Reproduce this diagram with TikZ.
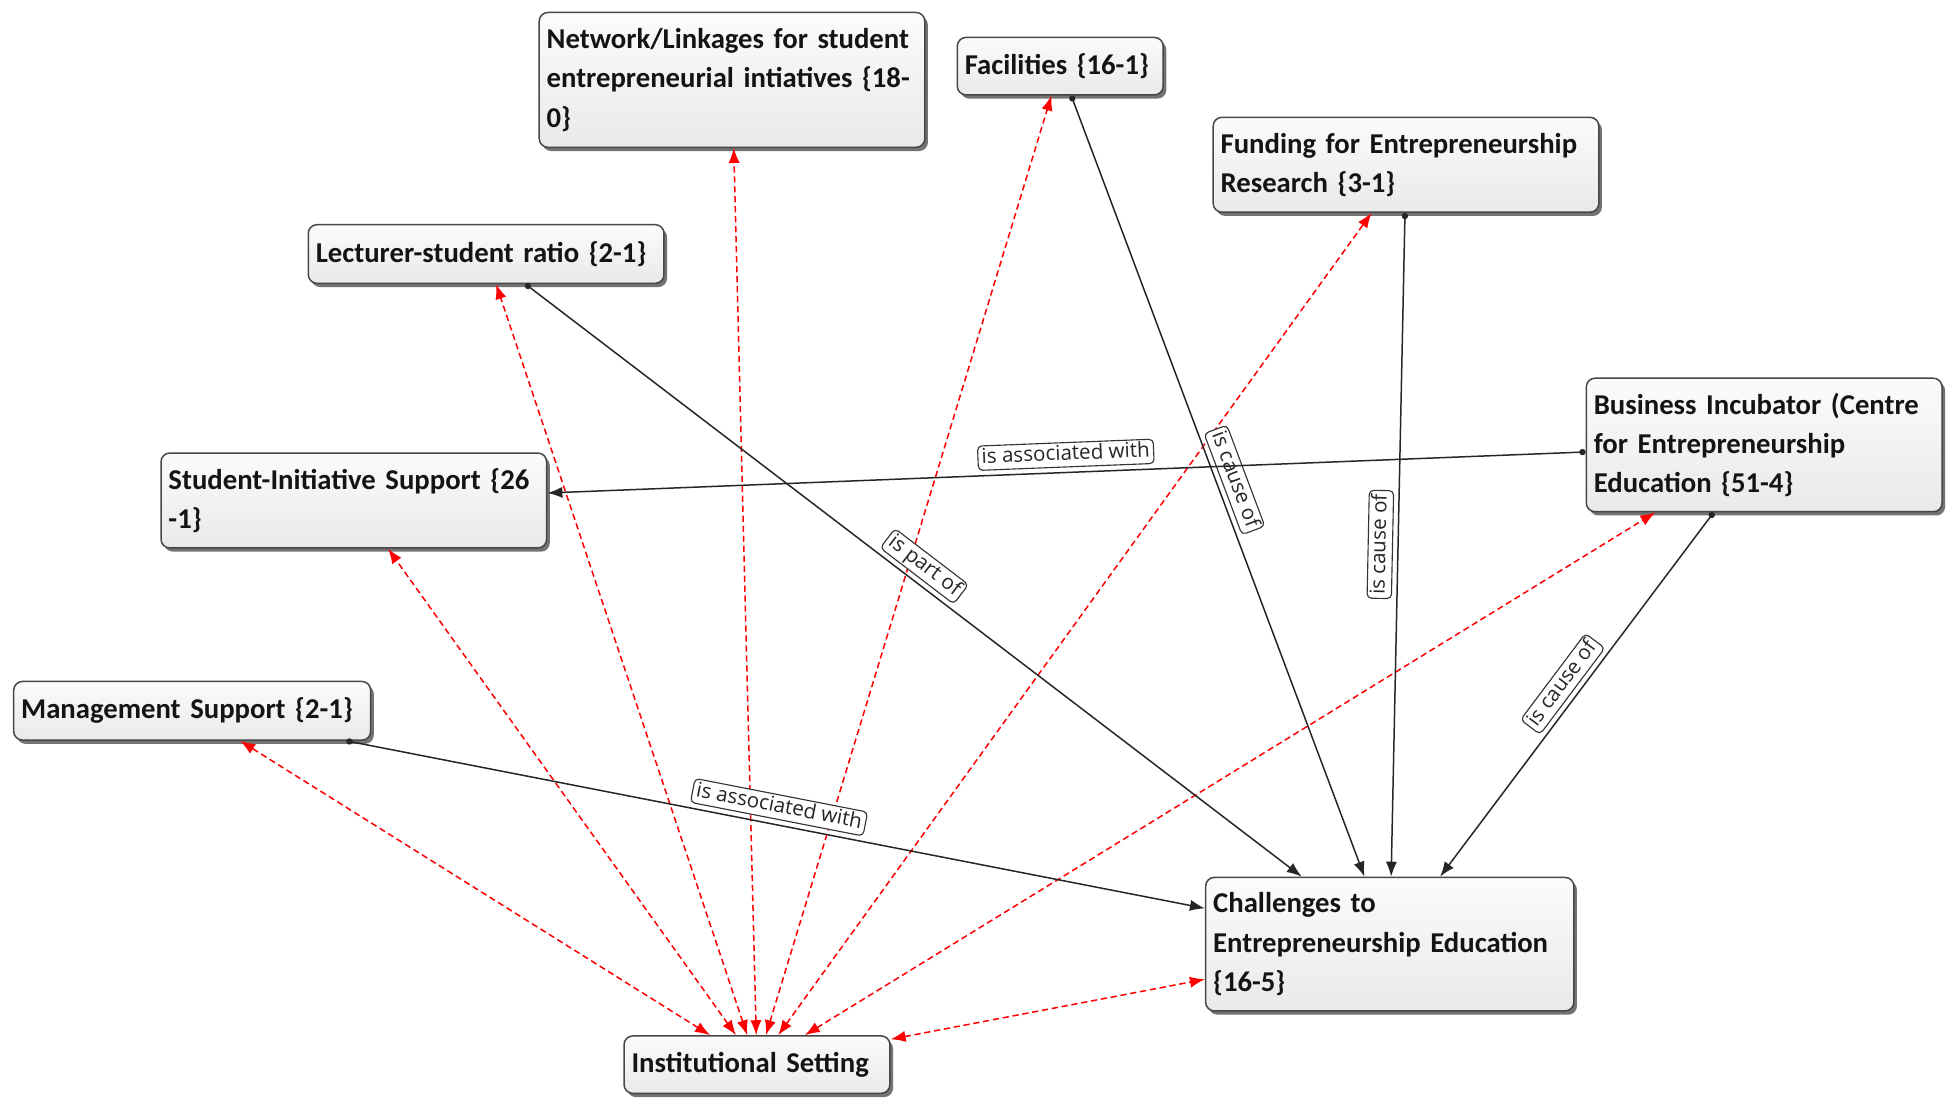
\documentclass[tikz,border=0pt]{standalone}
\usepackage{fontspec}
\newfontfamily\boxfont{Carlito}
\newfontfamily\tagfont{Open Sans}
\usetikzlibrary{arrows.meta,shadows}

\begin{document}
\begin{tikzpicture}[x=1pt,y=-1pt,
  concept/.style={draw=black!72, line width=1.2pt, rounded corners=7pt,
    top color=gray!3, bottom color=gray!17,
    drop shadow={shadow xshift=2.5pt, shadow yshift=-3pt, fill=black, opacity=.55},
    inner xsep=6pt, inner ysep=4pt, align=left,
    font=\boxfont\bfseries\fontsize{23}{31.5}\selectfont, text=black!92},
  rel/.style={line width=1.2pt, draw=black!85,
    {Circle[length=5pt]}-{Latex[length=12pt,width=9pt]}},
  tie/.style={line width=1.2pt, draw=red, dash pattern=on 5pt off 3pt,
    {Latex[length=12pt,width=9pt]}-{Latex[length=12pt,width=9pt]}},
  tag/.style={draw=black!80, line width=0.9pt, rounded corners=3.5pt, fill=white,
    inner xsep=3pt, inner ysep=1.5pt, text height=12.5pt, text depth=4pt,
    text=black!85, font=\tagfont\fontsize{16.5}{18}\selectfont,
    sloped, above=4pt},
]
\useasboundingbox (0,0) rectangle (1568,881);

% concept boxes
\node[concept, text width=297pt, minimum height=108pt] (net) at (586.5,64)
  {Network/Linkages for student\\entrepreneurial intiatives \{18-\\0\}};
\node[concept, text width=153pt, minimum height=46pt] (fac) at (849.5,53)
  {Facilities \{16-1\}};
\node[concept, text width=297pt, minimum height=76pt] (fund) at (1126.5,132)
  {Funding for Entrepreneurship\\Research \{3-1\}};
\node[concept, text width=273pt, minimum height=47pt] (lect) at (389.5,203.5)
  {Lecturer-student ratio \{2-1\}};
\node[concept, text width=297pt, minimum height=76pt] (stud) at (283.5,401)
  {Student-Initiative Support \{26\\-1\}};
\node[concept, text width=273pt, minimum height=107pt] (biz) at (1413.5,356.5)
  {Business Incubator (Centre\\for Entrepreneurship\\Education \{51-4\}};
\node[concept, text width=274pt, minimum height=47pt] (mgmt) at (154,569.5)
  {Management Support \{2-1\}};
\node[concept, text width=283pt, minimum height=107pt] (chal) at (1113.5,756.5)
  {Challenges to\\Entrepreneurship Education\\\{16-5\}};
\node[concept, text width=201pt, minimum height=46pt] (inst) at (606.5,853)
  {Institutional Setting};

% two-way links from the institutional setting
\foreach \other in {mgmt,stud,lect,net,fac,fund,biz,chal}
  \draw[tie] (inst) -- (\other);

% labelled relations
\draw[rel] (lect) -- node[tag]{is part of} (chal);
\draw[rel] (fac)  -- node[tag]{is cause of} (chal);
\draw[rel] (fund) -- node[tag]{is cause of} (chal);
\draw[rel] (biz)  -- node[tag]{is cause of} (chal);
\draw[rel] (biz)  -- node[tag]{is associated with} (stud);
\draw[rel] (mgmt) -- node[tag]{is associated with} (chal);
\end{tikzpicture}
\end{document}
